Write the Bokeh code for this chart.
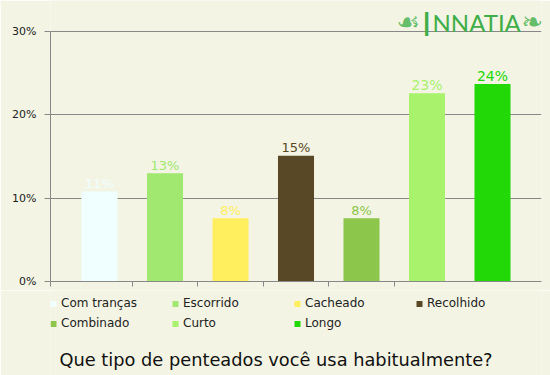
from bokeh.plotting import figure
from bokeh.layouts import column
from bokeh.models import FixedTicker, Label, ColumnDataSource, Range1d
from bokeh.core.properties import value
from bokeh.embed import file_html
from bokeh.resources import INLINE

categories = ["Com tranças", "Escorrido", "Cacheado", "Recolhido", "Combinado", "Curto", "Longo"]
shares = [10.8, 13.0, 7.6, 15.1, 7.6, 22.6, 23.7]
share_labels = ["11%", "13%", "8%", "15%", "8%", "23%", "24%"]
colors = ["#F0FFFF", "#A0E870", "#FFEE5E", "#594826", "#8CC64A", "#A8F26C", "#22D806"]
y_ticks = [0, 10, 20, 30]
y_tick_labels = ["0%", "10%", "20%", "30%"]
title_text = "Que tipo de penteados você usa habitualmente?"

BG = "#F3F4E3"
AX = "#888888"
FONT = "DejaVu Sans"
n = len(categories)
x_lo, x_hi = -0.748, n - 1 + 0.748
y_top = 30 * 281 / 250  # frame reaches the top of the canvas; axis stops at 30 %

src = ColumnDataSource(dict(
    x=list(range(n)), top=shares, label=share_labels, color=colors,
    size=["14px" if s > 20 else "13px" for s in shares],
))

# ---------------- chart ----------------
p = figure(width=550, height=290, x_range=Range1d(x_lo, x_hi), y_range=Range1d(0, y_top),
           output_backend="svg", toolbar_location=None,
           min_border_left=50, min_border_right=9, min_border_top=0, min_border_bottom=9,
           background_fill_color=BG, border_fill_color=BG, outline_line_color=None)

p.vbar(x="x", top="top", width=0.55, fill_color="color", line_color=None, source=src)
p.text(x="x", y="top", text="label", text_color="color", text_font_size="size",
       text_align="center", text_baseline="alphabetic", y_offset=-8,
       text_font=value(FONT), source=src)

p.xgrid.visible = False
p.ygrid.grid_line_color = AX
p.ygrid.grid_line_width = 1
p.yaxis.ticker = FixedTicker(ticks=y_ticks)
p.yaxis.bounds = (0, 30)
p.yaxis.major_label_overrides = {t: l for t, l in zip(y_ticks, y_tick_labels)}
p.yaxis.axis_line_color = AX
p.yaxis.major_tick_line_color = AX
p.yaxis.major_tick_out = 6
p.yaxis.major_tick_in = 0
p.yaxis.minor_tick_line_color = None
p.yaxis.major_label_standoff = 8
p.yaxis.major_label_text_font = FONT
p.yaxis.major_label_text_font_size = "11px"
p.yaxis.major_label_text_color = "#222222"

x_ticks = [x_lo] + [i + 0.5 for i in range(n - 2)]
p.xaxis.ticker = FixedTicker(ticks=x_ticks)
p.xaxis.major_label_overrides = {t: "" for t in x_ticks}
p.xaxis.axis_line_color = AX
p.xaxis.major_tick_line_color = AX
p.xaxis.major_tick_out = 5
p.xaxis.major_tick_in = 0
p.xaxis.minor_tick_line_color = None
p.xaxis.major_label_standoff = 0

# logo (inside the frame, which reaches the top of the canvas)
LOGO = "#3FAE49"
logo_y = 259
p.add_layout(Label(x=346, y=logo_y + 1, x_units="screen", y_units="screen", text="☙",
                   text_baseline="alphabetic",
                   text_font=FONT, text_font_size="26px", text_color=LOGO, text_alpha=0.8))
p.add_layout(Label(x=371.5, y=logo_y, x_units="screen", y_units="screen", text="I",
                   text_baseline="alphabetic",
                   text_font="Lato", text_font_size="33px", text_color=LOGO))
p.add_layout(Label(x=382, y=logo_y, x_units="screen", y_units="screen", text="NNATIA",
                   text_baseline="alphabetic",
                   text_font="Lato", text_font_size="24px", text_color=LOGO))
p.add_layout(Label(x=471, y=logo_y + 1, x_units="screen", y_units="screen", text="❧",
                   text_baseline="alphabetic",
                   text_font=FONT, text_font_size="26px", text_color=LOGO, text_alpha=0.8))

# ---------------- legend + title strip ----------------
# the column aligns this frame with the chart frame (x 50..541 of the page)
q = figure(width=550, height=85, x_range=Range1d(50, 541), y_range=Range1d(375, 290),
           output_backend="svg", toolbar_location=None,
           x_axis_location=None, y_axis_location=None,
           min_border_left=0, min_border_right=0, min_border_top=0, min_border_bottom=0,
           background_fill_color=BG, border_fill_color=BG, outline_line_color=None)
q.grid.visible = False

cols = [i % 4 for i in range(n)]
rows = [i // 4 for i in range(n)]
leg = ColumnDataSource(dict(
    sx=[53 + 122 * c for c in cols],
    sy=[303.5 + 20 * r for r in rows],
    tx=[60.5 + 122 * c for c in cols],
    ty=[302.5 + 20 * r for r in rows],
    label=categories, color=colors,
))
q.scatter(x="sx", y="sy", marker="square", size=6, fill_color="color", line_color=None, source=leg)
q.text(x="tx", y="ty", text="label", text_font=value(FONT), text_font_size="12px",
       text_color="#222222", text_baseline="alphabetic", source=leg)

q.add_layout(Label(x=275.5, y=359, text=title_text, text_align="center",
                   text_baseline="alphabetic", text_font=FONT, text_font_size="17.8px",
                   text_color="#111111"))

layout = column(p, q, spacing=0)
open("out.html", "w").write(file_html(layout, INLINE))
